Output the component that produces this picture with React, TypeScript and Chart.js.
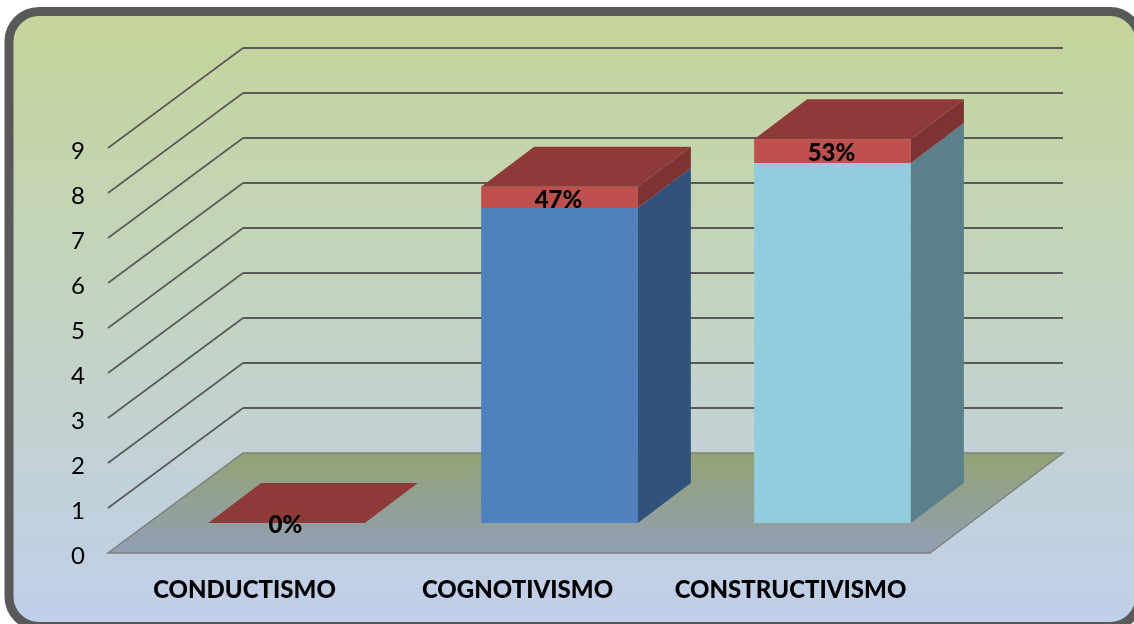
import React, { useEffect, useRef } from "react";
import { Chart, registerables } from "chart.js";

Chart.register(...registerables);

const categories = ["CONDUCTISMO", "COGNOTIVISMO", "CONSTRUCTIVISMO"];
const frequencyValues = [0, 7, 8];
const percentValues = [0, 0.47, 0.53];
const percentLabels = ["0%", "47%", "53%"];

const frontColors = ["#4f81bd", "#4f81bd", "#93cddd"];
const sideColors = ["#31527a", "#31527a", "#5c808b"];
const redFront = "#c0504d";
const redSide = "#7c3331";
const redTop = "#8e3a39";

const FONT = "Lato, Carlito, sans-serif";
const WALL_DX = 135;
const WALL_DY = -100;
const FLOOR_RIGHT_EXTRA = 3;
const BAR_SHIFT_X = 42;
const BAR_SHIFT_Y = -30;
const BAR_DX = 53;
const BAR_DY = -40;

function poly(ctx: CanvasRenderingContext2D, pts: number[][], fill: any, stroke?: string, lw = 1) {
  ctx.beginPath();
  pts.forEach((p, i) => (i ? ctx.lineTo(p[0], p[1]) : ctx.moveTo(p[0], p[1])));
  ctx.closePath();
  ctx.fillStyle = fill;
  ctx.fill();
  if (stroke) {
    ctx.strokeStyle = stroke;
    ctx.lineWidth = lw;
    ctx.stroke();
  }
}

const scene3d = {
  id: "scene3d",
  beforeDraw(chart: any) {
    const { ctx, chartArea, scales } = chart;
    const left = chartArea.left;
    const right = chartArea.right + FLOOR_RIGHT_EXTRA;
    const yScale = scales.y;
    ctx.save();
    const bg = ctx.createLinearGradient(0, 15, 0, 618);
    bg.addColorStop(0, "#c5d59a");
    bg.addColorStop(0.5, "#c3d4c3");
    bg.addColorStop(1, "#c0cfea");
    ctx.beginPath();
    ctx.roundRect(9, 11.5, 1131, 615, 30);
    ctx.fillStyle = bg;
    ctx.fill();
    ctx.strokeStyle = "#595959";
    ctx.lineWidth = 9;
    ctx.stroke();

    yScale.ticks.forEach((_: any, i: number) => {
      const y = yScale.getPixelForTick(i);
      if (i === 0) return;
      ctx.strokeStyle = "#595959";
      ctx.lineWidth = 1.6;
      ctx.beginPath();
      ctx.moveTo(left, y);
      ctx.lineTo(left + WALL_DX, y + WALL_DY);
      ctx.stroke();
      ctx.lineWidth = 2.2;
      ctx.beginPath();
      ctx.moveTo(left + WALL_DX, y + WALL_DY);
      ctx.lineTo(right + 133, y + WALL_DY);
      ctx.stroke();
    });

    const y0 = yScale.getPixelForValue(0);
    const floor = ctx.createLinearGradient(0, y0 + WALL_DY, 0, y0);
    floor.addColorStop(0, "#93a373");
    floor.addColorStop(1, "#919fb5");
    poly(
      ctx,
      [
        [left, y0],
        [right, y0],
        [right + 133, y0 + WALL_DY],
        [left + WALL_DX, y0 + WALL_DY],
      ],
      floor,
      "#7f7f7f",
      1.5
    );
    ctx.restore();
  },
  beforeDatasetsDraw(chart: any) {
    chart.ctx.save();
    chart.ctx.translate(BAR_SHIFT_X, BAR_SHIFT_Y);
  },
  afterDatasetsDraw(chart: any) {
    const { ctx } = chart;
    const lower = chart.getDatasetMeta(0).data;
    const upper = chart.getDatasetMeta(1).data;
    categories.forEach((_, i) => {
      const r = lower[i].x + lower[i].width / 2;
      const l = lower[i].x - lower[i].width / 2;
      const base = lower[i].base;
      const mid = lower[i].y;
      const top = upper[i].y;
      if (base - mid > 0.5) {
        poly(ctx, [[r, base], [r + BAR_DX, base + BAR_DY], [r + BAR_DX, mid + BAR_DY], [r, mid]], sideColors[i]);
      }
      if (mid - top > 0.5) {
        poly(ctx, [[r, mid], [r + BAR_DX, mid + BAR_DY], [r + BAR_DX, top + BAR_DY], [r, top]], redSide);
      }
      poly(ctx, [[l, top], [r, top], [r + BAR_DX, top + BAR_DY], [l + BAR_DX, top + BAR_DY]], redTop);
    });
    ctx.fillStyle = "#000";
    ctx.font = `900 24px ${FONT}`;
    ctx.textAlign = "center";
    ctx.textBaseline = "middle";
    categories.forEach((_, i) => {
      const cy = (upper[i].y + upper[i].base) / 2;
      ctx.fillText(percentLabels[i], upper[i].x - 1, cy + 2.5);
    });
    ctx.restore();
  },
};

export default function App() {
  const ref = useRef<HTMLCanvasElement>(null);
  useEffect(() => {
    const chart = new Chart(ref.current!, {
      type: "bar",
      data: {
        labels: categories,
        datasets: [
          { label: "Frecuencia", data: frequencyValues, backgroundColor: frontColors, clip: false } as any,
          { label: "Porcentaje", data: percentValues, backgroundColor: redFront, clip: false } as any,
        ],
      },
      options: {
        responsive: false,
        animation: false,
        layout: { padding: { left: 0, right: 207, top: 148, bottom: 0 } },
        plugins: { legend: { display: false }, tooltip: { enabled: false } },
        datasets: { bar: { categoryPercentage: 1, barPercentage: 0.574 } },
        scales: {
          x: {
            stacked: true,
            grid: { display: false },
            border: { display: false },
            afterFit(s: any) {
              s.height = 71;
            },
            ticks: {
              color: "#000",
              maxRotation: 0,
              autoSkip: false,
              padding: 15,
              font: { family: FONT, size: 24, weight: "900" },
            },
          },
          y: {
            stacked: true,
            min: 0,
            max: 9,
            grid: { display: false },
            border: { display: false },
            afterFit(s: any) {
              s.width = 108;
            },
            ticks: {
              stepSize: 1,
              color: "#000",
              padding: 15,
              font: { family: FONT, size: 24, lineHeight: 0.25 },
              callback: (v: any) => ["", String(v)],
            },
          },
        },
      } as any,
      plugins: [scene3d],
    });
    return () => chart.destroy();
  }, []);
  return (
    <canvas
      ref={ref}
      width={1134}
      height={624}
      style={{ position: "absolute", left: 0, top: 0, display: "block" }}
    />
  );
}
